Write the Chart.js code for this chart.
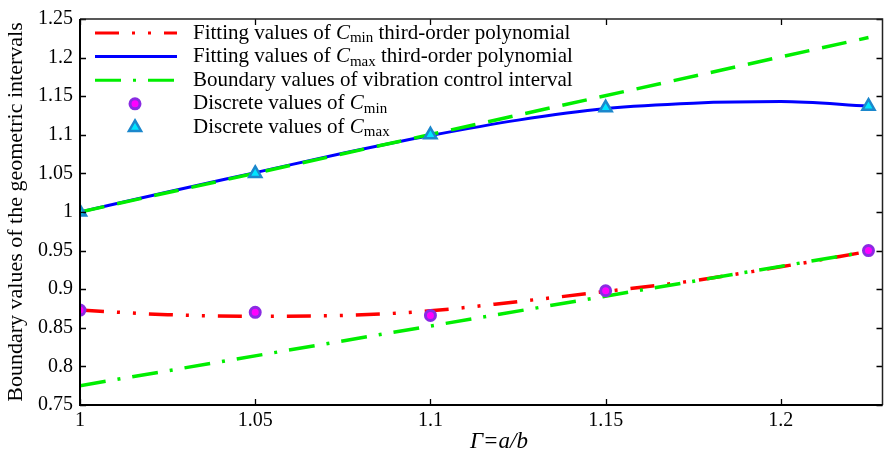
<!DOCTYPE html>
<html>
<head>
<meta charset="utf-8">
<script src="https://cdn.jsdelivr.net/npm/chart.js@4.4.0/dist/chart.umd.min.js"></script>
<style>
html, body { margin: 0; padding: 0; background: #fff; }
#wrap { width: 889px; height: 454px; overflow: hidden; }
</style>
</head>
<body>
<div id="wrap"><canvas id="chart" width="892" height="454"></canvas></div>
<script>
// discrete points (Gamma = a/b)
const gammaPts = [1, 1.05, 1.1, 1.15, 1.225];
const cminDiscrete = [0.873, 0.870, 0.866, 0.898, 0.950];
const cmaxDiscrete = [1.000, 1.050, 1.100, 1.135, 1.137];

// third-order polynomial fits
const fitX = [1, 1.025, 1.05, 1.075, 1.1, 1.125, 1.15, 1.175, 1.2, 1.225];
const cminFit = [0.873, 0.867, 0.865, 0.866, 0.872, 0.884, 0.897, 0.911, 0.929, 0.949];
const cmaxFit = [1.000, 1.026, 1.051, 1.076, 1.099, 1.119, 1.134, 1.141, 1.143, 1.137];

// boundary lines of the vibration control interval
const boundX = [1, 1.225];
const boundUpper = [1.000, 1.226];
const boundLower = [0.775, 0.949];

// axis ticks
const xTicks = [1, 1.05, 1.1, 1.15, 1.2];
const xTickLabels = ['1', '1.05', '1.1', '1.15', '1.2'];
const yTicks = [0.75, 0.8, 0.85, 0.9, 0.95, 1, 1.05, 1.1, 1.15, 1.2, 1.25];
const yTickLabels = ['0.75', '0.8', '0.85', '0.9', '0.95', '1', '1.05', '1.1', '1.15', '1.2', '1.25'];
const xTitle = 'Γ=a/b';

const serif = "'Liberation Serif', 'Times New Roman', serif";
const toXY = (xs, ys) => xs.map((x, i) => ({ x: x, y: ys[i] }));

const RED_DASH = [24, 13, 3, 13, 3, 13];
const GREEN_DASH = [26, 12, 3, 12];

// frame + inward ticks on all four sides, and the x title
const framePlugin = {
    id: 'frame',
    afterDatasetsDraw(chart) {
        const ctx = chart.ctx;
        const a = chart.chartArea;
        const xs = chart.scales.x, ys = chart.scales.y;
        ctx.save();
        ctx.strokeStyle = '#000';
        ctx.lineWidth = 1.3;
        xTicks.forEach(v => {
            const px = Math.round(xs.getPixelForValue(v)) + 0.5;
            ctx.beginPath();
            ctx.moveTo(px, a.bottom); ctx.lineTo(px, a.bottom - 6);
            ctx.moveTo(px, a.top); ctx.lineTo(px, a.top + 6);
            ctx.stroke();
        });
        yTicks.forEach(v => {
            const py = Math.round(ys.getPixelForValue(v)) + 0.5;
            ctx.beginPath();
            ctx.moveTo(a.left, py); ctx.lineTo(a.left + 6, py);
            ctx.moveTo(a.right, py); ctx.lineTo(a.right - 6, py);
            ctx.stroke();
        });
        ctx.lineWidth = 1.5;
        ctx.strokeStyle = '#222';
        ctx.beginPath();
        ctx.moveTo(a.left, a.top); ctx.lineTo(a.right, a.top); ctx.lineTo(a.right, a.bottom);
        ctx.stroke();
        ctx.lineWidth = 2;
        ctx.strokeStyle = '#000';
        ctx.beginPath();
        ctx.moveTo(a.left, a.top); ctx.lineTo(a.left, a.bottom); ctx.lineTo(a.right, a.bottom);
        ctx.stroke();

        ctx.fillStyle = '#000';
        ctx.font = 'italic 23px ' + serif;
        ctx.textAlign = 'center';
        ctx.textBaseline = 'middle';
        ctx.fillText(xTitle, 499, 442);
        ctx.restore();
    }
};

// legend with subscripts
const legendRows = [
    { kind: 'line', color: '#ff0000', dash: RED_DASH, parts: ['Fitting values of ', 'C', 'min', ' third-order polynomial'] },
    { kind: 'line', color: '#0000ff', dash: [], parts: ['Fitting values of ', 'C', 'max', ' third-order polynomial'] },
    { kind: 'line', color: '#00ee00', dash: GREEN_DASH, parts: ['Boundary values of vibration control interval'] },
    { kind: 'circle', parts: ['Discrete values of ', 'C', 'min'] },
    { kind: 'triangle', parts: ['Discrete values of ', 'C', 'max'] }
];

const legendPlugin = {
    id: 'subLegend',
    afterDraw(chart) {
        const ctx = chart.ctx;
        ctx.save();
        ctx.textBaseline = 'middle';
        legendRows.forEach((row, i) => {
            const y = 33 + i * 23.6;
            if (row.kind === 'line') {
                ctx.strokeStyle = row.color;
                ctx.lineWidth = 3;
                ctx.setLineDash(row.dash);
                ctx.beginPath(); ctx.moveTo(95, y); ctx.lineTo(177, y); ctx.stroke();
                ctx.setLineDash([]);
            } else if (row.kind === 'circle') {
                ctx.fillStyle = '#ff00ff'; ctx.strokeStyle = '#8a2be2'; ctx.lineWidth = 3;
                Chart.helpers.drawPoint(ctx, { pointStyle: 'circle', radius: 5, borderWidth: 3 }, 135, y);
            } else {
                ctx.fillStyle = '#00e5ff'; ctx.strokeStyle = '#1b87cc'; ctx.lineWidth = 2.5;
                Chart.helpers.drawPoint(ctx, { pointStyle: 'triangle', radius: 7, borderWidth: 2.5 }, 135, y);
            }
            ctx.fillStyle = '#000';
            let x = 193;
            row.parts.forEach((p, k) => {
                if (k === 1) {
                    ctx.font = 'italic 21px ' + serif;
                    ctx.fillText(p, x, y);
                } else if (k === 2) {
                    ctx.font = '15px ' + serif;
                    ctx.fillText(p, x, y + 5);
                } else {
                    ctx.font = '21px ' + serif;
                    ctx.fillText(p, x, y);
                }
                x += ctx.measureText(p).width;
            });
        });
        ctx.restore();
    }
};

const ctx = document.getElementById('chart').getContext('2d');
const myChart = new Chart(ctx, {
    type: 'line',
    data: {
        datasets: [
            {
                label: 'Discrete values of Cmax',
                data: toXY(gammaPts, cmaxDiscrete),
                showLine: false,
                pointStyle: 'triangle',
                pointRadius: 7,
                pointBorderWidth: 2.5,
                pointBackgroundColor: '#00e5ff',
                pointBorderColor: '#1b87cc'
            },
            {
                label: 'Discrete values of Cmin',
                data: toXY(gammaPts, cminDiscrete),
                showLine: false,
                pointStyle: 'circle',
                pointRadius: 5,
                pointBorderWidth: 3,
                pointBackgroundColor: '#ff00ff',
                pointBorderColor: '#8a2be2'
            },
            {
                label: 'Boundary values of vibration control interval',
                data: toXY(boundX, boundUpper),
                borderColor: '#00ee00',
                borderWidth: 3.5,
                borderDash: [25, 13],
                pointRadius: 0
            },
            {
                label: 'Boundary lower',
                data: toXY(boundX, boundLower),
                borderColor: '#00ee00',
                borderWidth: 3.5,
                borderDash: GREEN_DASH,
                pointRadius: 0
            },
            {
                label: 'Fitting values of Cmax third-order polynomial',
                data: toXY(fitX, cmaxFit),
                borderColor: '#0000ff',
                borderWidth: 3,
                cubicInterpolationMode: 'monotone',
                pointRadius: 0
            },
            {
                label: 'Fitting values of Cmin third-order polynomial',
                data: toXY(fitX, cminFit),
                borderColor: '#ff0000',
                borderWidth: 3.5,
                borderDash: RED_DASH,
                cubicInterpolationMode: 'monotone',
                pointRadius: 0
            }
        ]
    },
    options: {
        responsive: false,
        animation: false,
        layout: { padding: { top: 13, right: 2, left: 0, bottom: 0 } },
        plugins: { legend: { display: false }, tooltip: { enabled: false } },
        scales: {
            x: {
                type: 'linear',
                min: 1,
                max: 1.229,
                afterBuildTicks: s => { s.ticks = xTicks.map(v => ({ value: v })); },
                afterFit: s => { s.height = 49; },
                grid: { display: false, drawTicks: false },
                border: { display: false },
                ticks: {
                    padding: 4,
                    color: '#000',
                    font: { family: serif, size: 20 },
                    maxRotation: 0,
                    callback: (v, i) => xTickLabels[i]
                }
            },
            y: {
                min: 0.75,
                max: 1.25,
                afterBuildTicks: s => { s.ticks = yTicks.map(v => ({ value: v })); },
                afterFit: s => { s.width = 80; },
                grid: { display: false, drawTicks: false },
                border: { display: false },
                ticks: {
                    padding: 7,
                    color: '#000',
                    font: { family: serif, size: 20 },
                    callback: (v, i) => yTickLabels[i]
                },
                title: {
                    display: true,
                    text: 'Boundary values of the geometric intervals',
                    color: '#000',
                    padding: { top: 3, bottom: 0 },
                    font: { family: serif, size: 22 }
                }
            }
        }
    },
    plugins: [framePlugin, legendPlugin]
});
</script>
</body>
</html>
